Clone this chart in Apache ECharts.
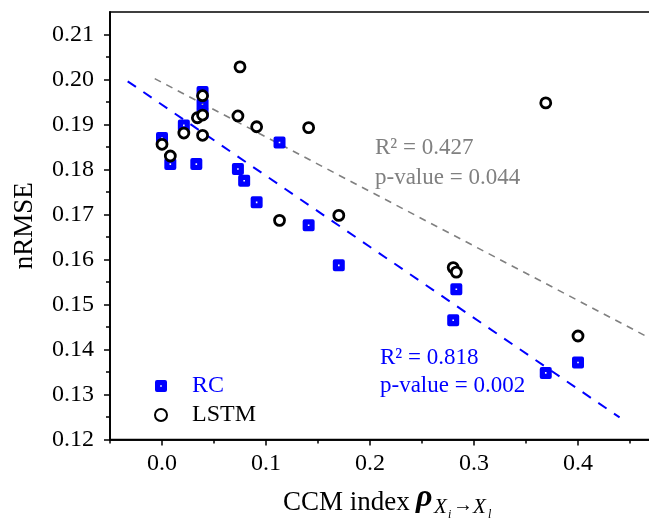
<!DOCTYPE html>
<html>
<head>
<meta charset="utf-8">
<script src="https://cdn.jsdelivr.net/npm/echarts@6/dist/echarts.min.js"></script>
<style>
html, body { margin: 0; padding: 0; background: #fff; }
#chart { width: 649px; height: 530px; }
</style>
</head>
<body>
<div id="chart"></div>
<script>
//RC 数据点
var rcX = [0.000, 0.008, 0.021, 0.033, 0.039, 0.039, 0.039, 0.073, 0.079, 0.091, 0.113, 0.141, 0.170, 0.280, 0.283, 0.369, 0.400];
var rcY = [0.1870, 0.1812, 0.1898, 0.1812, 0.1972, 0.1945, 0.1925, 0.1801, 0.1775, 0.1727, 0.1860, 0.1676, 0.1587, 0.1465, 0.1534, 0.1348, 0.1371];
//LSTM 数据点
var lstmX = [0.000, 0.008, 0.021, 0.034, 0.039, 0.039, 0.039, 0.073, 0.075, 0.091, 0.113, 0.141, 0.170, 0.280, 0.283, 0.369, 0.400];
var lstmY = [0.1856, 0.1830, 0.1881, 0.1915, 0.1964, 0.1921, 0.1876, 0.1919, 0.2028, 0.1895, 0.1687, 0.1893, 0.1698, 0.1582, 0.1572, 0.1948, 0.1430];
//拟合直线端点
var rcFitX = [-0.033, 0.440];
var rcFitY = [0.1996, 0.1249];
var lstmFitX = [-0.007, 0.480];
var lstmFitY = [0.2002, 0.1412];
//刻度
var xMajor = [0, 0.1, 0.2, 0.3, 0.4];
var xMinor = [-0.05, 0.05, 0.15, 0.25, 0.35, 0.45];
var yMajor = [0.12, 0.13, 0.14, 0.15, 0.16, 0.17, 0.18, 0.19, 0.20, 0.21];
var yMinor = [0.125, 0.135, 0.145, 0.155, 0.165, 0.175, 0.185, 0.195, 0.205];

var FONT = '"Liberation Serif", "Times New Roman", serif';
var BLUE = '#0000ff';
var GREY = '#808080';
//带白色小孔的圆角方块
var RC_SYMBOL = 'path://M2,0 H10 Q12,0 12,2 V10 Q12,12 10,12 H2 Q0,12 0,10 V2 Q0,0 2,0 Z M5.2,5.2 V6.8 H6.8 V5.2 Z';

var zip = function(xs, ys) {
	var out = [];
	for(var i = 0; i < xs.length; i++) {
		out.push([xs[i], ys[i]]);
	}
	return out;
};

var baseX = {
	type: 'value',
	min: -0.05,
	max: 0.5,
	splitLine: { show: false },
	axisLine: { show: true, onZero: false, lineStyle: { color: '#000', width: 1.5 } }
};
var baseY = {
	type: 'value',
	min: 0.12,
	max: 0.215,
	splitLine: { show: false },
	axisLine: { show: true, onZero: false, lineStyle: { color: '#000', width: 1.5 } }
};

var chart = echarts.init(document.getElementById('chart'));
chart.setOption({
	animation: false,
	grid: {
		left: 110,
		top: 12,
		width: 572,
		height: 427.5,
		containLabel: false,
		outerBoundsMode: 'none',
		show: true,
		borderColor: '#000',
		borderWidth: 1.5
	},
	xAxis: [
		Object.assign({}, baseX, {
			axisTick: { show: true, customValues: xMajor, length: 6, lineStyle: { color: '#000', width: 1.5 } },
			axisLabel: {
				customValues: xMajor,
				margin: 12,
				fontFamily: FONT,
				fontSize: 24,
				color: '#000',
				formatter: function(v) { return v.toFixed(1); }
			}
		}),
		Object.assign({}, baseX, {
			position: 'bottom',
			axisTick: { show: true, customValues: xMinor, length: 4, lineStyle: { color: '#000', width: 1.5 } },
			axisLabel: { show: false }
		})
	],
	yAxis: [
		Object.assign({}, baseY, {
			name: 'nRMSE',
			nameLocation: 'middle',
			nameGap: 72,
			nameTextStyle: { fontFamily: FONT, fontSize: 27, color: '#000' },
			axisTick: { show: true, customValues: yMajor, length: 6, lineStyle: { color: '#000', width: 1.5 } },
			axisLabel: {
				customValues: yMajor,
				margin: 16,
				fontFamily: FONT,
				fontSize: 24,
				color: '#000',
				formatter: function(v) { return v.toFixed(2); }
			}
		}),
		Object.assign({}, baseY, {
			position: 'left',
			axisTick: { show: true, customValues: yMinor, length: 4, lineStyle: { color: '#000', width: 1.5 } },
			axisLabel: { show: false }
		})
	],
	legend: {
		orient: 'vertical',
		left: 149,
		top: 369,
		itemWidth: 12,
		itemHeight: 12,
		itemGap: 5,
		textStyle: { fontFamily: FONT, fontSize: 24, padding: [0, 0, 0, 20] },
		data: [
			{ name: 'RC', textStyle: { color: BLUE } },
			{ name: 'LSTM', textStyle: { color: '#000' } }
		]
	},
	series: [{
		name: 'RC fit',
		type: 'line',
		data: zip(rcFitX, rcFitY),
		symbol: 'none',
		silent: true,
		lineStyle: { color: BLUE, width: 2, type: [10, 9] },
		z: 1
	}, {
		name: 'LSTM fit',
		type: 'line',
		data: zip(lstmFitX, lstmFitY),
		symbol: 'none',
		silent: true,
		lineStyle: { color: GREY, width: 1.6, type: [7, 6] },
		z: 1
	}, {
		name: 'RC',
		type: 'scatter',
		data: zip(rcX, rcY),
		symbol: RC_SYMBOL,
		symbolSize: 12,
		itemStyle: { color: BLUE, opacity: 1 },
		z: 2
	}, {
		name: 'LSTM',
		type: 'scatter',
		data: zip(lstmX, lstmY),
		symbol: 'circle',
		symbolSize: 10,
		itemStyle: { color: '#fff', borderColor: '#000', borderWidth: 2.8, opacity: 1 },
		z: 3
	}],
	graphic: [
		{ type: 'text', x: 375, y: 148, style: { text: 'R² = 0.427', font: '23px ' + FONT, fill: GREY, verticalAlign: 'middle' } },
		{ type: 'text', x: 375, y: 178, style: { text: 'p-value = 0.044', font: '23px ' + FONT, fill: GREY, verticalAlign: 'middle' } },
		{ type: 'text', x: 380, y: 358, style: { text: 'R² = 0.818', font: '23px ' + FONT, fill: BLUE, verticalAlign: 'middle' } },
		{ type: 'text', x: 380, y: 386, style: { text: 'p-value = 0.002', font: '23px ' + FONT, fill: BLUE, verticalAlign: 'middle' } },
		//横轴标题
		{ type: 'text', x: 283, y: 503, style: { text: 'CCM index', font: '27px ' + FONT, fill: '#000', verticalAlign: 'middle' } },
		{ type: 'text', x: 416, y: 498, style: { text: 'ρ', font: 'italic bold 32px ' + FONT, fill: '#000', verticalAlign: 'middle' } },
		{ type: 'text', x: 434, y: 507, style: { text: 'X', font: 'italic 21px ' + FONT, fill: '#000', verticalAlign: 'middle' } },
		{ type: 'text', x: 448, y: 515, style: { text: 'i', font: 'italic 12px ' + FONT, fill: '#000', verticalAlign: 'middle' } },
		{ type: 'text', x: 453, y: 506, style: { text: '→', font: 'bold 20px ' + FONT, fill: '#000', verticalAlign: 'middle' } },
		{ type: 'text', x: 473, y: 507, style: { text: 'X', font: 'italic 21px ' + FONT, fill: '#000', verticalAlign: 'middle' } },
		{ type: 'text', x: 488, y: 515, style: { text: 'l', font: 'italic 12px ' + FONT, fill: '#000', verticalAlign: 'middle' } }
	]
});
</script>
</body>
</html>
